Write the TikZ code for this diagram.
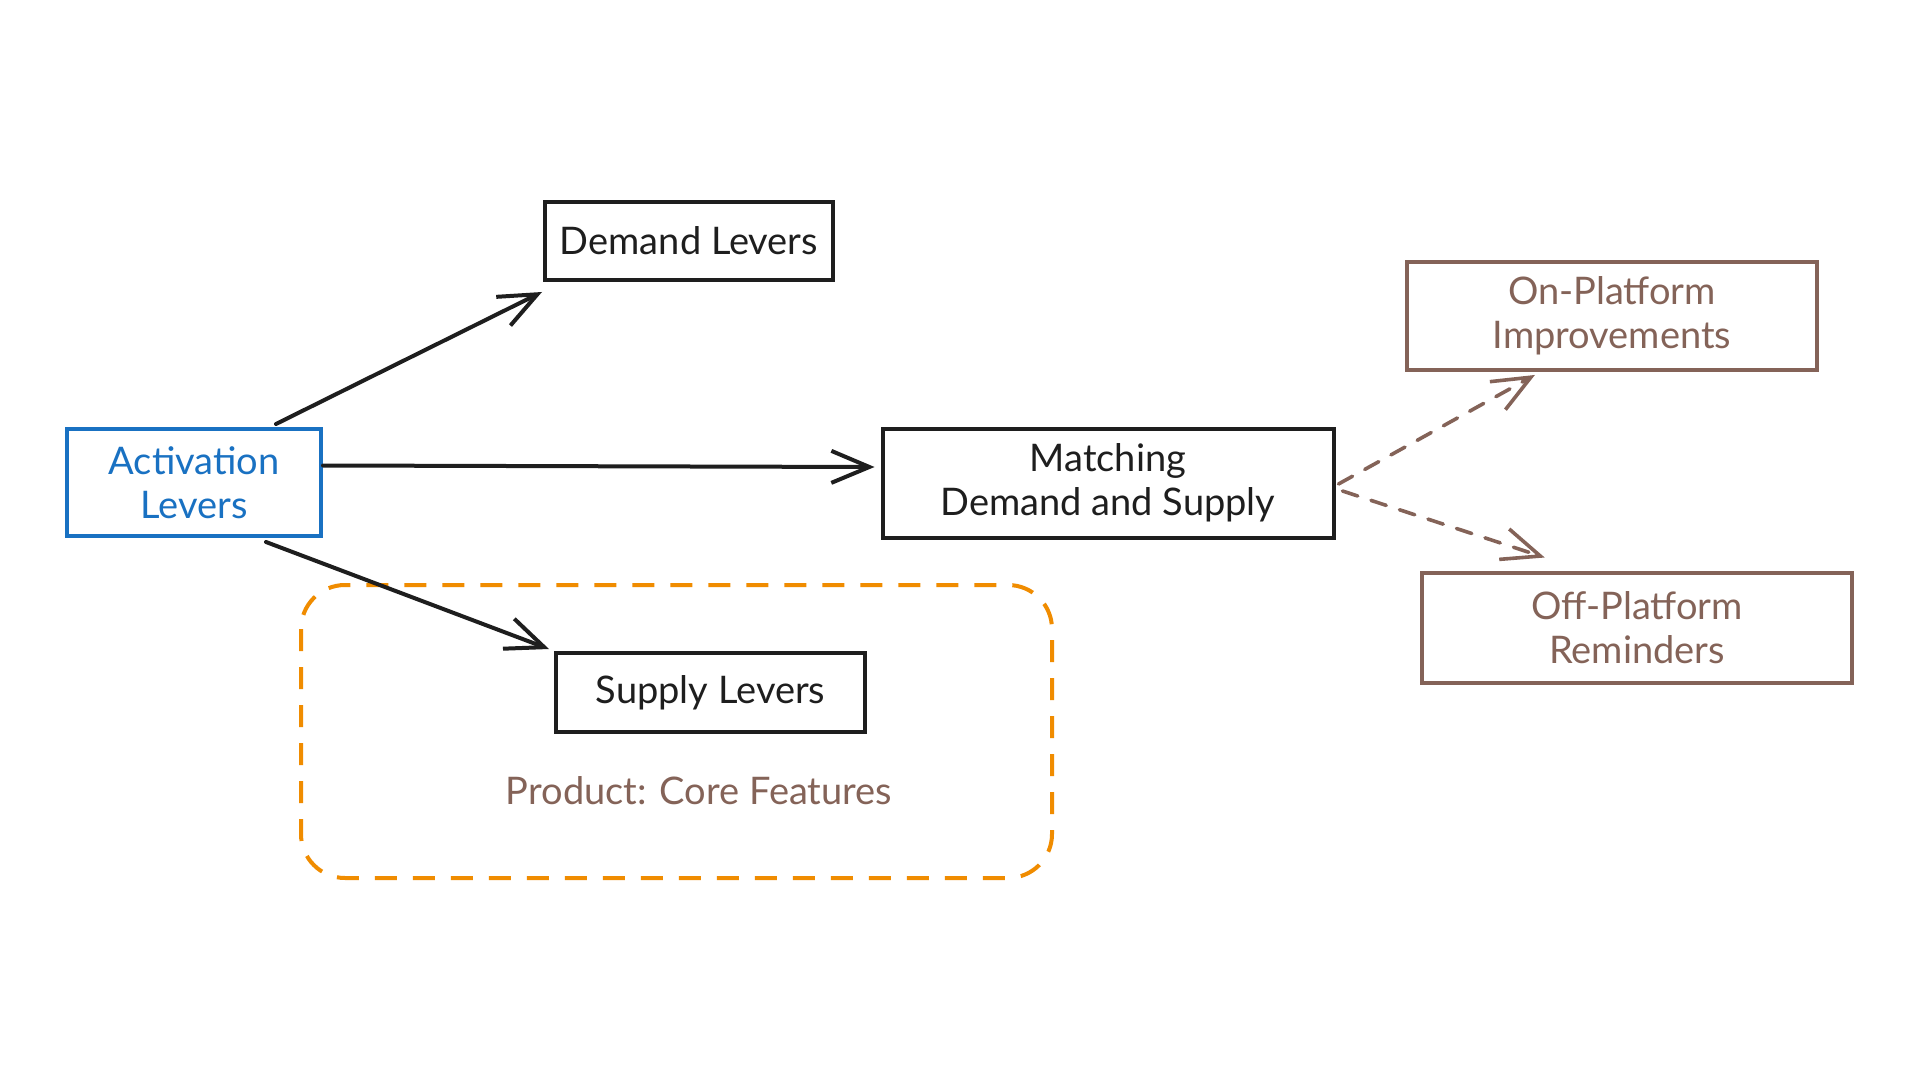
\documentclass[tikz,border=0pt]{standalone}
\usepackage{fontspec}
\setmainfont{Lato}
\usetikzlibrary{arrows.meta,calc}
\definecolor{ink}{HTML}{1E1E1E}
\definecolor{blueink}{HTML}{1971C2}
\definecolor{brownink}{HTML}{846358}
\definecolor{orangeink}{HTML}{F08C00}
\begin{document}
\begin{tikzpicture}[x=0.5pt,y=-0.5pt,
  box/.style={draw=ink, line width=2pt, inner sep=0pt, align=center,
    font=\fontsize{19}{22}\selectfont, text=ink},
  bluebox/.style={box, draw=blueink, text=blueink},
  brownbox/.style={box, draw=brownink, text=brownink, line width=1.6pt},
  arr/.style={draw=ink, line width=2pt, line cap=round, line join=round,
    -{Straight Barb[length=19pt,width=16pt,line width=2pt]}},
  darr/.style={draw=brownink, line width=1.8pt, line cap=round, line join=round,
    dash pattern=on 8pt off 7pt,
    -{Straight Barb[length=19pt,width=16pt,line width=1.8pt,sep]}},
  group/.style={draw=orangeink, line width=2pt, dash pattern=on 11pt off 8pt,
    rounded corners=22pt}
]
\fill[white] (0,0) rectangle (1920,1080);
\useasboundingbox (0,0) rectangle (1920,1080);

\node[bluebox, minimum width=127pt, minimum height=53.5pt] (act) at (194,482.5) {Activation\\Levers};
\node[box, minimum width=144pt, minimum height=39pt] (dem) at (689,241) {Demand Levers};
\node[box, minimum width=225.5pt, minimum height=54.5pt] (mat) at (1108,483) {Matching\\Demand and Supply};
\node[box, minimum width=154.5pt, minimum height=39.5pt] (sup) at (710.5,692.5) {Supply Levers};
\node[brownbox, minimum width=205pt, minimum height=54pt] (onp) at (1612,316) {On-Platform\\Improvements};
\node[brownbox, minimum width=215pt, minimum height=55pt] (offp) at (1637,628) {Off-Platform\\Reminders};

\coordinate (gtl) at (301,585);
\coordinate (gbr) at (1052,878);
\draw[group] (gtl) rectangle (gbr);
\node[font=\fontsize{19}{22}\selectfont, text=brownink] (prod) at (699,791) {Product: Core Features};

\draw[arr] ($(act.north)+(82,-3)$) -- ($(dem.south west)+(-1,10)$);
\draw[arr] ($(act.east)+(0,-17)$) -- ($(mat.west)+(-6,-16)$);
\draw[arr] ($(act.south)+(72,4)$) -- ($(sup.north west)+(-5,-2)$);
\draw[darr] ($(mat.east)+(3,1)$) -- ($(onp.south west)+(132,2)$);
\draw[darr] ($(mat.east)+(7,8)$) -- ($(offp.north west)+(127,-13)$);
\end{tikzpicture}
\end{document}
